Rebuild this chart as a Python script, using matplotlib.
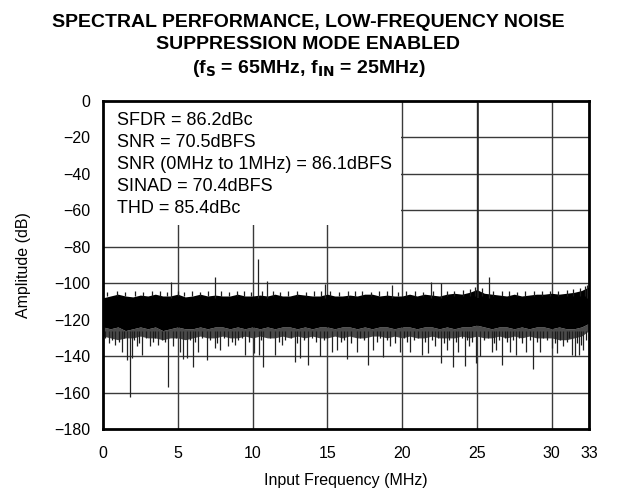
import numpy as np
import matplotlib
matplotlib.use('Agg')
import matplotlib.pyplot as plt
from matplotlib.patches import Rectangle

plt.rcParams['font.family'] = ['Liberation Sans', 'DejaVu Sans']

#%% datos leidos del grafico
# envolventes del piso de ruido, cada 0.5 MHz de 0 a 32.5 MHz
f_env = np.arange(0, 32.51, 0.5)
techo = [-108, -107, -106, -107, -107.5, -106.5, -107, -106, -107, -107,
         -106, -107.5, -107, -106, -107, -106.5, -107, -107, -106, -107,
         -107, -106.5, -107, -106, -107, -107, -106, -106.5, -107, -107,
         -106, -107, -107, -106.5, -107, -106, -106, -107, -106.5, -107,
         -107, -106, -107, -106, -106.5, -107, -106, -105.5, -106, -105,
         -103.5, -105.5, -106, -106.5, -107, -106, -107, -106.5, -106, -106,
         -105.5, -106, -105.5, -105, -104, -102]
piso = [-124, -125, -124, -126, -125, -124, -125, -124, -126, -125,
        -124, -125, -125, -124, -125, -124, -124, -125, -124, -125,
        -124, -125, -124, -125, -124, -124, -125, -124, -125, -124,
        -124, -125, -124, -124, -125, -124, -125, -124, -124, -125,
        -124, -124, -125, -124, -124, -125, -124, -125, -124, -124,
        -123, -124, -125, -124, -124, -125, -124, -125, -124, -124,
        -125, -124, -125, -125, -124, -122]
piso_fr = [-129, -130, -131, -130, -130, -129, -130, -130, -131, -130,
           -130, -131, -130, -129, -130, -130, -129, -130, -130, -129,
           -130, -129, -130, -130, -129, -130, -129, -130, -129, -130,
           -130, -129, -130, -129, -130, -130, -129, -129, -130, -129,
           -130, -129, -130, -130, -129, -130, -130, -130, -129, -130,
           -129, -130, -130, -129, -130, -129, -130, -129, -130, -130,
           -130, -131, -131, -130, -129, -126]

# picos hacia abajo profundos (MHz, dB)
f_bajo = [0.40, 0.80, 1.25, 1.58, 1.81, 1.92, 2.25, 2.59, 3.14, 3.70,
          4.37, 4.70, 5.15, 5.37, 5.60, 6.00, 6.37, 6.93, 7.49, 7.82,
          8.38, 8.83, 9.50, 10.10, 10.40, 10.72, 11.50, 11.95, 12.84, 13.17,
          13.73, 14.51, 15.29, 15.63, 16.30, 16.97, 17.70, 18.07, 18.74, 19.19,
          19.86, 20.50, 21.30, 21.75, 22.20, 22.60, 22.98, 23.38, 23.76, 24.20,
          24.50, 24.94, 25.20, 26.00, 26.30, 26.66, 27.20, 27.60, 28.30, 28.73,
          29.20, 30.00, 30.34, 30.78, 31.34, 31.56, 31.80, 32.10]
a_bajo = [-133, -134, -137.6, -142, -162.3, -141, -134.7, -139.4, -134.7, -134,
          -156.8, -134.7, -137.6, -141.8, -141, -146.2, -137.6, -142, -135.6, -136.5,
          -134.7, -134, -139.4, -138.5, -139.4, -145.8, -139.4, -134, -143, -141,
          -144.9, -140.1, -137.6, -136.5, -141.8, -137.6, -144.9, -136.5, -140.6, -134.7,
          -137.6, -137.6, -139.4, -138.5, -134.7, -144, -136.5, -145.8, -137.6, -145.4,
          -134.7, -144, -140, -137.6, -136.5, -144.9, -137.6, -139.4, -137.6, -147.3,
          -137.6, -135.6, -138.5, -134.7, -139.4, -140, -139.4, -136.5]

# picos hacia abajo cortos (MHz, dB)
f_corto = [0.15, 0.60, 1.05, 1.40, 2.05, 2.40, 2.85, 3.35, 3.50, 3.95,
           4.15, 4.90, 5.85, 6.15, 6.60, 7.15, 7.65, 8.10, 8.60, 9.05,
           9.30, 9.75, 10.55, 11.20, 11.75, 12.20, 12.55, 13.00, 13.45, 14.00,
           14.25, 14.75, 15.00, 15.90, 16.10, 16.60, 17.20, 17.45, 18.35, 18.55,
           19.00, 19.55, 20.10, 20.30, 20.80, 21.05, 21.55, 22.00, 22.40, 22.80,
           23.15, 23.60, 24.00, 24.35, 24.70, 25.50, 25.75, 26.15, 26.45, 26.90,
           27.05, 27.40, 27.85, 28.05, 28.55, 29.00, 29.45, 29.70, 30.20, 30.55,
           31.00, 31.15, 31.70, 31.95, 32.30]
a_corto = [-130, -131, -132, -130, -131, -133, -130, -132, -130, -131,
           -132, -130, -131, -132, -130, -131, -133, -130, -132, -131,
           -130, -132, -131, -130, -132, -131, -130, -133, -131, -130,
           -132, -131, -130, -132, -131, -133, -130, -131, -132, -130,
           -131, -133, -130, -132, -131, -130, -132, -131, -130, -133,
           -131, -132, -130, -131, -132, -131, -130, -133, -131, -130,
           -132, -131, -130, -133, -131, -132, -130, -131, -133, -131,
           -132, -130, -133, -134, -131]

# picos cortos hacia arriba sobre el piso (MHz, dB)
f_arriba = [0.30, 0.95, 1.50, 2.15, 2.70, 3.25, 3.80, 4.25, 5.00, 5.45,
            5.95, 6.50, 7.00, 7.90, 8.45, 8.95, 9.40, 9.90, 10.65, 11.35,
            11.85, 12.40, 12.95, 13.55, 14.10, 14.60, 15.20, 15.75, 16.85, 17.35,
            17.90, 18.45, 19.00, 19.70, 20.25, 20.85, 21.40, 22.10, 23.00, 23.50,
            24.05, 24.55, 24.85, 25.35, 26.10, 26.65, 27.15, 27.70, 28.25, 28.80,
            29.35, 29.90, 30.45, 31.00, 31.45, 31.90, 32.20]
a_arriba = [-105, -104.5, -105, -104, -105, -104.5, -104, -105, -104.5, -105,
            -104, -105, -104.5, -104, -105, -104.5, -104, -105, -104.5, -104,
            -105, -104, -104.5, -105, -104, -104.5, -104, -105, -104.5, -104,
            -105, -104.5, -104, -105, -104.5, -104, -105, -104, -104.5, -104,
            -103.5, -103, -102, -102.5, -104, -104.5, -104, -105, -104.5, -104,
            -104, -104.5, -104, -103.5, -103, -102.5, -101.5]

# espurias hacia arriba (MHz, dB)
f_esp = [4.53, 7.49, 10.34, 10.99, 14.85, 16.40, 19.30, 21.93, 22.58, 25.80, 32.40]
a_esp = [-99.2, -96.4, -86.7, -98.6, -100.6, -104, -101, -99.5, -100, -96.4, -101]

# fundamental
f_fund = 25.08
a_fund = -1

x_ticks = [0, 5, 10, 15, 20, 25, 30, 32.5]
x_labels = ['0', '5', '10', '15', '20', '25', '30', '33']
y_ticks = np.arange(-180, 1, 20)

texto = ['SFDR = 86.2dBc', 'SNR = 70.5dBFS', 'SNR (0MHz to 1MHz) = 86.1dBFS',
         'SINAD = 70.4dBFS', 'THD = 85.4dBc']

#%% grafico
fig = plt.figure(figsize=(6.17, 4.95), dpi=100)
ax = fig.add_axes([0.1669, 0.1333, 0.7877, 0.6626])

for x in x_ticks[1:-1]:
    ax.axvline(x, color='#3a3a3a', lw=1.0, zorder=1)
for y in y_ticks[1:-1]:
    ax.axhline(y, color='#3a3a3a', lw=1.0, zorder=1)

# caja blanca de texto tapando la grilla
ax.add_patch(Rectangle((0, 0.622), 0.613, 0.378, transform=ax.transAxes,
                       facecolor='white', edgecolor='none', zorder=2))
for i, t in enumerate(texto):
    ax.text(0.029, (309 - i*22) / 328, t, transform=ax.transAxes, fontsize=13,
            va='center', ha='left', zorder=3)

# piso de ruido
ax.fill_between(f_env, piso, piso_fr, color='#4a4a4a', lw=0, zorder=3)
ax.fill_between(f_env, techo, piso, color='black', lw=0, zorder=4)
ax.vlines(f_arriba, -107, a_arriba, color='#1a1a1a', lw=0.9, zorder=4)
ax.vlines(f_corto, -126, a_corto, color='#1a1a1a', lw=0.9, zorder=4)
ax.vlines(f_bajo, -126, a_bajo, color='#222222', lw=0.9, zorder=4)
ax.vlines(f_esp, -108, a_esp, color='#222222', lw=0.9, zorder=4)
ax.vlines([f_fund], -108, [a_fund], color='#222222', lw=1.1, zorder=4)

ax.set_xlim(0, 32.5)
ax.set_ylim(-180, 0)
ax.set_xticks(x_ticks)
ax.set_xticklabels(x_labels)
ax.set_yticks(y_ticks)
ax.set_yticklabels([str(v).replace('-', '\u2212') for v in y_ticks])
ax.tick_params(length=0, labelsize=11.5)
ax.tick_params(axis='x', pad=12)
ax.tick_params(axis='y', pad=9)
for s in ax.spines.values():
    s.set_linewidth(2)
    s.set_zorder(5)

ax.set_xlabel('Input Frequency (MHz)', fontsize=11.5, labelpad=9)
ax.set_ylabel('Amplitude (dB)', fontsize=11.5, labelpad=17)

fig.text(0.5, 0.955, 'SPECTRAL PERFORMANCE, LOW-FREQUENCY NOISE', ha='center', va='center',
         fontsize=14, fontweight='bold')
fig.text(0.5, 0.91, 'SUPPRESSION MODE ENABLED', ha='center', va='center',
         fontsize=14, fontweight='bold')
fig.text(0.5, 0.862, r'(f$_\mathbf{S}$ = 65MHz, f$_\mathbf{IN}$ = 25MHz)', ha='center', va='center',
         fontsize=14, fontweight='bold')

fig.savefig('out.png', dpi=100)
